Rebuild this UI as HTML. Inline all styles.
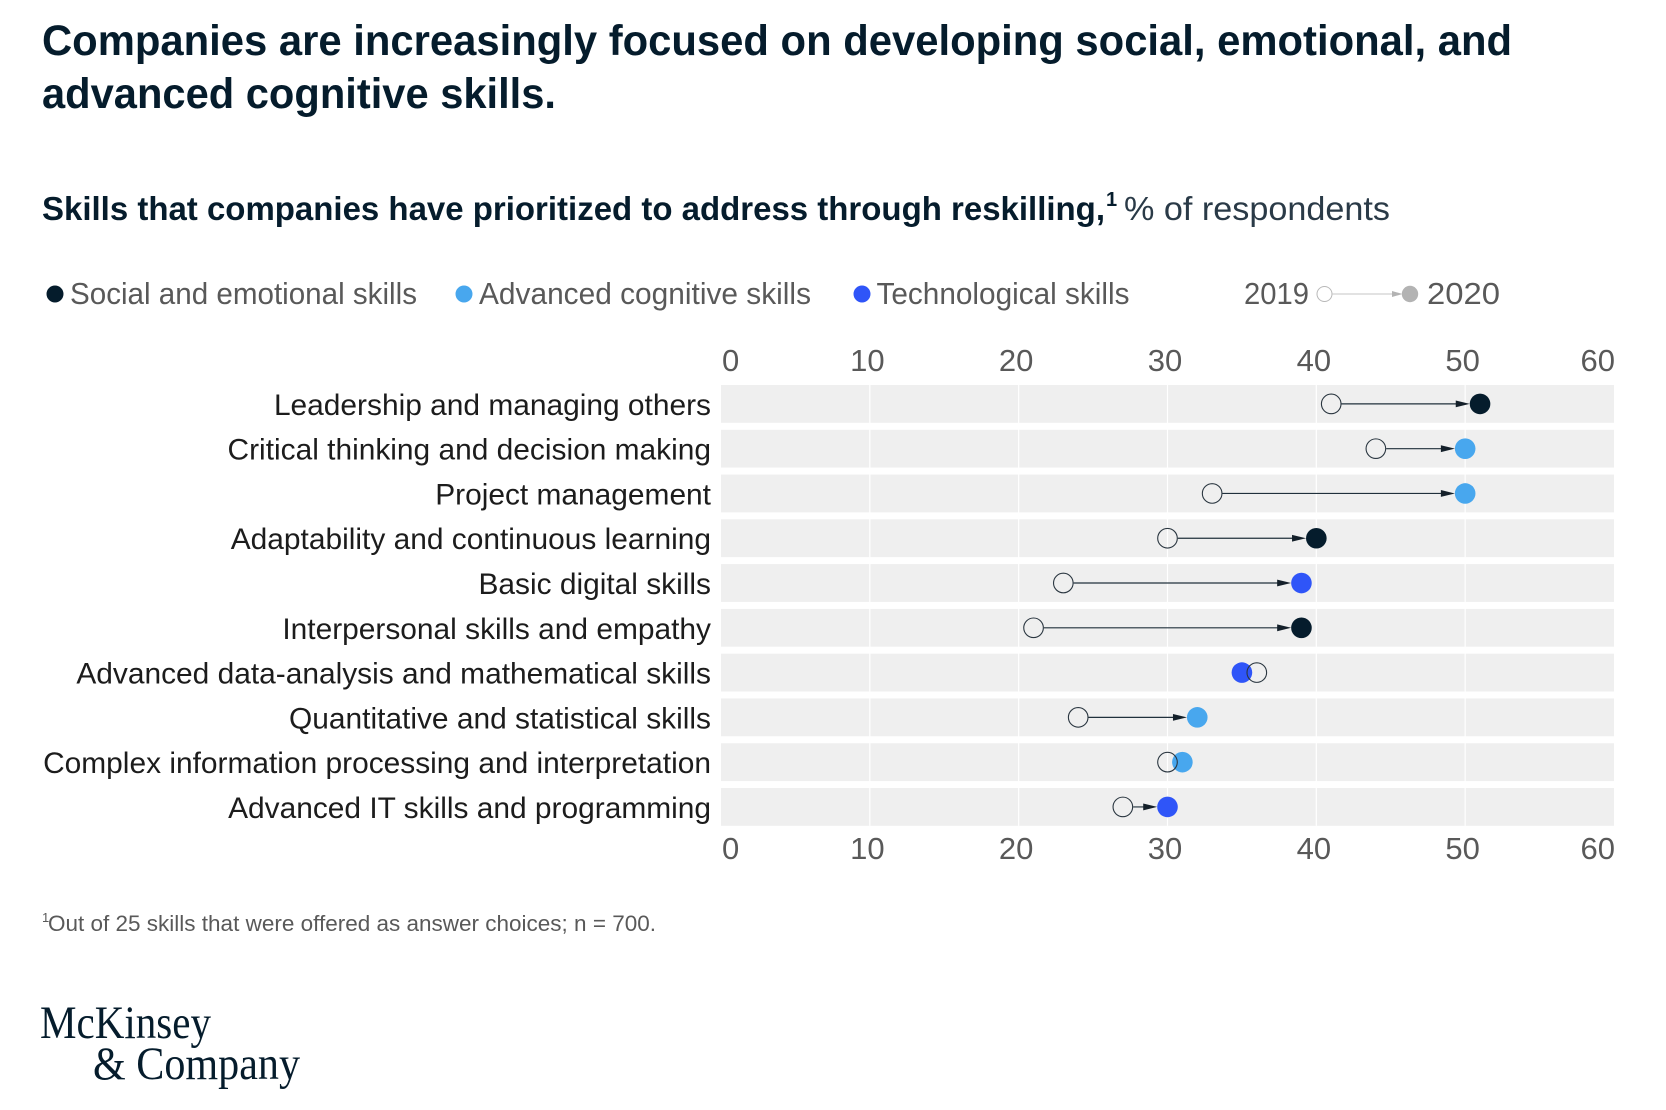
<!DOCTYPE html>
<html lang="en">
<head>
<meta charset="utf-8">
<title>Skills companies prioritized for reskilling</title>
<style>
html,body{margin:0;padding:0;background:#fff;width:1666px;height:1110px;overflow:hidden}
svg{display:block;font-family:"Liberation Sans",sans-serif}
</style>
</head>
<body>
<svg id="chart" xmlns="http://www.w3.org/2000/svg" width="1666" height="1110" viewBox="0 0 1666 1110">
  <g font-size="42.5" font-weight="700" fill="#051c2c">
    <text x="42" y="55" textLength="1470" lengthAdjust="spacingAndGlyphs">Companies are increasingly focused on developing social, emotional, and</text>
    <text x="42" y="108" textLength="514" lengthAdjust="spacingAndGlyphs">advanced cognitive skills.</text>
  </g>
  <g fill="#051c2c">
    <text x="42" y="220" font-size="33" font-weight="700" textLength="1063" lengthAdjust="spacingAndGlyphs">Skills that companies have prioritized to address through reskilling,</text>
    <text x="1106" y="206" font-size="20" font-weight="700">1</text>
    <text x="1124" y="220" font-size="33" fill="#2a3a47" textLength="266" lengthAdjust="spacingAndGlyphs">% of respondents</text>
  </g>
  <g font-size="30.5" fill="#595959">
    <circle cx="55" cy="294" r="8.5" fill="#051c2c"/>
    <text x="70" y="304" textLength="347" lengthAdjust="spacingAndGlyphs">Social and emotional skills</text>
    <circle cx="464" cy="294" r="8.5" fill="#48a7ee"/>
    <text x="479" y="304" textLength="332" lengthAdjust="spacingAndGlyphs">Advanced cognitive skills</text>
    <circle cx="862" cy="294" r="8.5" fill="#2f55f8"/>
    <text x="876.5" y="304" textLength="253" lengthAdjust="spacingAndGlyphs">Technological skills</text>
    <text x="1244" y="304" textLength="65" lengthAdjust="spacingAndGlyphs">2019</text>
    <circle cx="1324.5" cy="294" r="7.5" fill="none" stroke="#b8b8b8" stroke-width="1"/>
    <line x1="1332" y1="294" x2="1394" y2="294" stroke="#c4c4c4" stroke-width="1"/>
    <polygon points="1392,291 1402.5,294 1392,297" fill="#b3b3b3"/>
    <circle cx="1410" cy="294" r="8.2" fill="#b3b3b3"/>
    <text x="1427" y="304" textLength="73" lengthAdjust="spacingAndGlyphs">2020</text>
  </g>
  <g id="plot"></g>
  <g fill="#595959">
    <text x="42" y="922" font-size="13">1</text>
    <text x="48" y="931" font-size="22" textLength="608" lengthAdjust="spacingAndGlyphs">Out of 25 skills that were offered as answer choices; n = 700.</text>
  </g>
  <g fill="#051c2c" style="font-family:'Liberation Serif',serif" font-size="47">
    <text x="40" y="1038" textLength="171" lengthAdjust="spacingAndGlyphs">McKinsey</text>
    <text x="93" y="1079" textLength="207" lengthAdjust="spacingAndGlyphs">&amp; Company</text>
  </g>
</svg>
<script>
const categories = ["Leadership and managing others","Critical thinking and decision making","Project management","Adaptability and continuous learning","Basic digital skills","Interpersonal skills and empathy","Advanced data-analysis and mathematical skills","Quantitative and statistical skills","Complex information processing and interpretation","Advanced IT skills and programming"];
const values2019 = [41,44,33,30,23,21,36,24,30,27];
const values2020 = [51,50,50,40,39,39,35,32,31,30];
const skillTypes = ["social","cognitive","cognitive","social","technological","social","technological","cognitive","cognitive","technological"];
const tickValues = [0,10,20,30,40,50,60];

const typeColors = {social:"#051c2c",cognitive:"#48a7ee",technological:"#2f55f8"};
const NS = "http://www.w3.org/2000/svg";
const plot = document.getElementById("plot");
const X0 = 721, X1 = 1614, DOMAIN_MAX = 60;
const BAND_TOP = 385, BAND_PITCH = 44.78, BAND_H = 37.8;
const xScale = v => X0 + (X1 - X0) * v / DOMAIN_MAX;
const bandY = i => BAND_TOP + BAND_PITCH * i;
const rowY = i => bandY(i) + BAND_H / 2;

function svgEl(tag, attrs, text) {
  const el = document.createElementNS(NS, tag);
  for (const k in attrs) el.setAttribute(k, attrs[k]);
  if (text !== undefined) el.textContent = text;
  plot.appendChild(el);
  return el;
}

categories.forEach((cat, i) => {
  const band = svgEl("rect", {x: X0, y: bandY(i), width: X1 - X0, height: BAND_H, fill: "#efefef"});
  
  
  const label = svgEl("text", {x: 711, y: rowY(i) + 11, "text-anchor": "end", "font-size": 29.9, fill: "#1c1c1c"}, cat);
  
  
});

tickValues.forEach(t => {
  if (t > 0 && t < DOMAIN_MAX) {
    const grid = svgEl("line", {x1: xScale(t), x2: xScale(t), y1: BAND_TOP, y2: bandY(categories.length - 1) + BAND_H, stroke: "#fff", "stroke-width": 1.2});
    
    
  }
  const anchor = t === 0 ? "start" : t === DOMAIN_MAX ? "end" : "middle";
  const lx = t === 0 ? xScale(t) + 1 : t === DOMAIN_MAX ? xScale(t) + 1 : xScale(t) - 2.5;
  [371, 859].forEach(y => {
    const tick = svgEl("text", {x: lx, y: y, "text-anchor": anchor, "font-size": 31, fill: "#595959"}, String(t));
    
    
  });
});

categories.forEach((cat, i) => {
  const a = xScale(values2019[i]), b = xScale(values2020[i]), y = rowY(i), r = 10.3;
  const gap = Math.abs(b - a) - 2 * r;
  if (gap > 0) {
    const dir = b > a ? 1 : -1;
    const tip = b - dir * r;
    const line = svgEl("line", {x1: a + dir * r, x2: tip - dir * 6, y1: y, y2: y, stroke: "#20303c", "stroke-width": 1.2});
    
    
    const head = svgEl("polygon", {points: `${tip},${y} ${tip - dir * 14},${y - 3.4} ${tip - dir * 14},${y + 3.4}`, fill: "#14202a"});
    
    
  }
  const dot20 = svgEl("circle", {cx: b, cy: y, r: r, fill: typeColors[skillTypes[i]]});
  
  
  const dot19 = svgEl("circle", {cx: a, cy: y, r: 9.8, fill: "none", stroke: "#2a3640", "stroke-width": 1.1});
  
  
});
</script>
</body>
</html>
